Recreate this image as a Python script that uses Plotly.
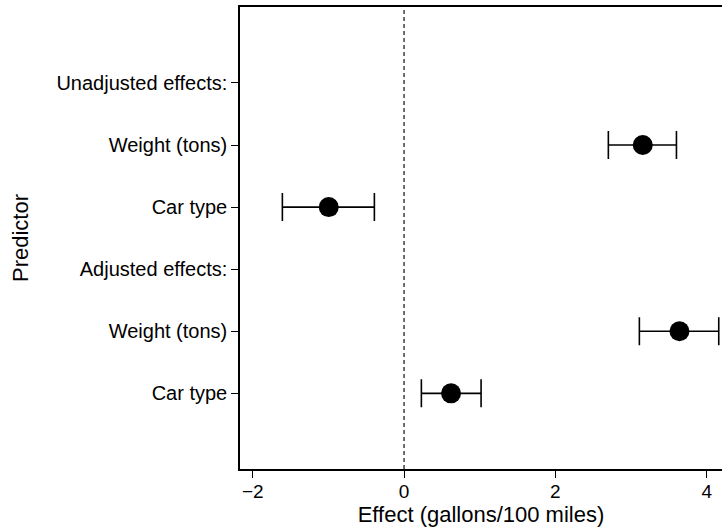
import plotly.graph_objects as go

labels = ["Unadjusted effects:", "Weight (tons)", "Car type",
          "Adjusted effects:", "Weight (tons)", "Car type"]
positions = [1, 2, 3, 4, 5, 6]
est = [None, 3.155, -0.995, None, 3.64, 0.621]
lo = [None, 2.70, -1.608, None, 3.11, 0.229]
hi = [None, 3.60, -0.392, None, 4.159, 1.018]
xticks = [-2, 0, 2, 4]
xticklabels = ["\u22122", "0", "2", "4"]

px_ = [p for p, e in zip(positions, est) if e is not None]
ex = [e for e in est if e is not None]
eplus = [h - e for h, e in zip(hi, est) if e is not None]
eminus = [e - l for l, e in zip(lo, est) if e is not None]

FONT = "Liberation Sans, Arial, sans-serif"

fig = go.Figure()
fig.add_trace(go.Scatter(
    x=ex, y=px_, mode="markers",
    marker=dict(size=20, color="black"),
    error_x=dict(type="data", symmetric=False, array=eplus, arrayminus=eminus,
                 color="black", thickness=1.6, width=14),
    showlegend=False, hoverinfo="skip",
))
fig.add_shape(type="line", xref="x", yref="paper", x0=0, x1=0, y0=0, y1=1,
              line=dict(color="#333333", width=1.4, dash="4px,3px"), layer="below")

fig.update_layout(
    width=722, height=532,
    margin=dict(l=240, r=0, t=7, b=63, autoexpand=False),
    paper_bgcolor="white", plot_bgcolor="white",
    font=dict(family=FONT, size=20, color="black"),
)
fig.update_xaxes(
    range=[-2.168, 4.202], tickvals=xticks, ticktext=xticklabels,
    tickfont=dict(size=19), ticklabelstandoff=-3,
    showgrid=False, zeroline=False,
    showline=True, linecolor="black", linewidth=1.5, mirror=True,
    ticks="outside", ticklen=7, tickwidth=1.3, tickcolor="black",
    title=dict(text="Effect (gallons/100 miles)", font=dict(size=22), standoff=5),
    automargin=False,
)
fig.update_yaxes(
    range=[7.219, -0.224], tickvals=positions, ticktext=labels,
    tickfont=dict(size=20),
    showgrid=False, zeroline=False,
    showline=True, linecolor="black", linewidth=1.5,
    ticks="outside", ticklen=7, tickwidth=1.3, tickcolor="black",
    title=dict(text="Predictor", font=dict(size=22), standoff=22),
    automargin=False,
)
fig.write_html("out.html", config={"displayModeBar": False},
               post_script="document.body.style.margin='0';document.body.style.overflow='hidden';")
